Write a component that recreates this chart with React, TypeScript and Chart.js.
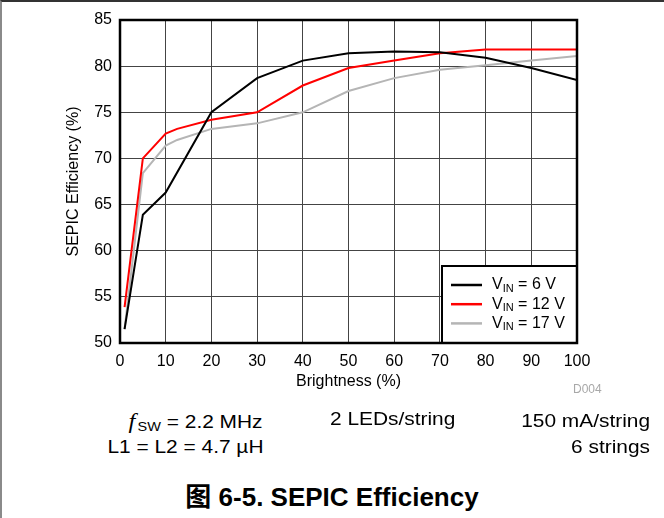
import React, { useEffect, useRef } from "react";
import { Chart, registerables } from "chart.js";

Chart.register(...registerables);

const SANS = "'Liberation Sans', Arial, Helvetica, sans-serif";
const SERIF = "'Liberation Serif', 'Times New Roman', serif";

// Axis ranges and ticks
const xRange = [0, 100];
const xStep = 10;
const yRange = [50, 85];
const yStep = 5;
const xTitle = "Brightness (%)";
const yTitle = "SEPIC Efficiency (%)";

// Series data
const brightness6V = [1, 5, 10, 20, 30, 40, 50, 60, 70, 80, 90, 100];
const efficiency6V = [51.5, 63.9, 66.3, 75.0, 78.7, 80.6, 81.4, 81.6, 81.5, 80.9, 79.8, 78.5];

const brightness12V = [1, 5, 10, 12.5, 20, 30, 40, 50, 60, 70, 80, 90, 100];
const efficiency12V = [53.9, 70.0, 72.7, 73.2, 74.2, 75.0, 77.9, 79.8, 80.6, 81.4, 81.8, 81.8, 81.8];

const brightness17V = [1, 5, 10, 12.5, 20, 30, 40, 50, 60, 70, 80, 90, 100];
const efficiency17V = [51.5, 68.4, 71.4, 72.0, 73.2, 73.8, 75.0, 77.3, 78.7, 79.6, 80.1, 80.6, 81.1];

const seriesValues = ["6 V", "12 V", "17 V"];
const seriesColors = ["#000000", "#ff0000", "#b5b5b5"];

const toPoints = (xs: number[], ys: number[]) => xs.map((x, i) => ({ x, y: ys[i] }));

const overlayPlugin = {
  id: "overlay",
  afterDraw(chart: any) {
    const { ctx, chartArea } = chart;
    const ds = chart.data.datasets;
    // legend box
    const w = 135;
    const h = 77;
    const x0 = chartArea.right - w;
    const y0 = chartArea.bottom - h;
    ctx.save();
    ctx.fillStyle = "#ffffff";
    ctx.fillRect(x0, y0, w, h);
    ctx.lineWidth = 2;
    ctx.strokeStyle = "#000000";
    ctx.strokeRect(x0, y0, w, h);
    ds.forEach((d: any, i: number) => {
      const y = chartArea.bottom - 58 + i * 19.2;
      ctx.beginPath();
      ctx.strokeStyle = d.borderColor;
      ctx.lineWidth = 2.5;
      ctx.moveTo(x0 + 9, y);
      ctx.lineTo(x0 + 40, y);
      ctx.stroke();
      ctx.fillStyle = "#000";
      ctx.textBaseline = "middle";
      ctx.textAlign = "left";
      let tx = x0 + 50;
      ctx.font = `16px ${SANS}`;
      ctx.fillText("V", tx, y);
      tx += ctx.measureText("V").width;
      ctx.font = `11px ${SANS}`;
      ctx.fillText("IN", tx, y + 4);
      tx += ctx.measureText("IN").width;
      ctx.font = `16px ${SANS}`;
      ctx.fillText(" = " + seriesValues[i], tx, y);
    });
    // plot frame
    ctx.lineWidth = 2.5;
    ctx.strokeStyle = "#000";
    ctx.strokeRect(chartArea.left, chartArea.top, chartArea.right - chartArea.left, chartArea.bottom - chartArea.top);
    ctx.restore();
  },
};

function ChartCanvas() {
  const ref = useRef<HTMLCanvasElement | null>(null);
  useEffect(() => {
    if (!ref.current) return;
    Chart.defaults.font.family = SANS;
    Chart.defaults.color = "#000";
    const chart = new Chart(ref.current, {
      type: "line",
      data: {
        datasets: [
          { label: "VIN = " + seriesValues[0], data: toPoints(brightness6V, efficiency6V), borderColor: seriesColors[0], backgroundColor: seriesColors[0] },
          { label: "VIN = " + seriesValues[1], data: toPoints(brightness12V, efficiency12V), borderColor: seriesColors[1], backgroundColor: seriesColors[1] },
          { label: "VIN = " + seriesValues[2], data: toPoints(brightness17V, efficiency17V), borderColor: seriesColors[2], backgroundColor: seriesColors[2] },
        ],
      },
      options: {
        responsive: false,
        animation: false,
        layout: { padding: { left: 0, right: 87, top: 20, bottom: 0 } },
        plugins: { legend: { display: false }, tooltip: { enabled: false } },
        elements: { point: { radius: 0 }, line: { tension: 0, borderWidth: 2 } },
        scales: {
          x: {
            type: "linear",
            min: xRange[0],
            max: xRange[1],
            ticks: { stepSize: xStep, padding: 9, font: { size: 16 }, color: "#000", maxRotation: 0, autoSkip: false },
            grid: { color: "#444", drawTicks: false, lineWidth: 1 },
            border: { display: false },
            title: { display: true, text: xTitle, font: { size: 16 }, color: "#000", padding: { top: 0, bottom: 9 } },
            afterFit: (s: any) => {
              s.height = 57;
            },
          },
          y: {
            type: "linear",
            min: yRange[0],
            max: yRange[1],
            ticks: { stepSize: yStep, padding: 8, font: { size: 16 }, color: "#000" },
            grid: { color: "#444", drawTicks: false, lineWidth: 1 },
            border: { display: false },
            title: { display: true, text: yTitle, font: { size: 16 }, color: "#000", padding: { top: 64, bottom: 0 } },
            afterFit: (s: any) => {
              s.width = 120;
            },
          },
        },
      },
      plugins: [overlayPlugin],
    } as any);
    return () => chart.destroy();
  }, []);
  return <canvas ref={ref} width={664} height={400} style={{ position: "absolute", left: 0, top: 0, width: 664, height: 400 }} />;
}

const stretch = 1.16;

export default function App() {
  const base: React.CSSProperties = { position: "absolute", whiteSpace: "nowrap", fontFamily: SANS, color: "#000" };
  return (
    <div style={{ position: "absolute", left: 0, top: 0, width: 664, height: 518, overflow: "hidden", background: "#fff", boxSizing: "border-box", borderTop: "2px solid #333", borderLeft: "2px solid #8a8a8a" }}>
      <div style={{ position: "absolute", left: -2, top: -2, width: 664, height: 400 }}>
        <ChartCanvas />
      </div>
      <div style={{ ...base, left: 571, top: 382.5 - 2, fontSize: 12, lineHeight: "12px", color: "#a8a8a8" }}>D004</div>
      <div style={{ ...base, right: 664 - 263, top: 412 - 2, fontSize: 18, lineHeight: "18px", transform: `scaleX(${stretch})`, transformOrigin: "right center" }}>
        <span style={{ fontFamily: SERIF, fontStyle: "italic", fontSize: 21, marginRight: 2 }}>f</span>
        <span style={{ fontSize: 12.5, position: "relative", top: 3 }}>SW</span>
        {" = 2.2 MHz"}
      </div>
      <div style={{ ...base, left: 328, top: 410 - 2, fontSize: 18, lineHeight: "18px", transform: `scaleX(${stretch})`, transformOrigin: "left center" }}>2 LEDs/string</div>
      <div style={{ ...base, right: 664 - 650, top: 412 - 2, fontSize: 18, lineHeight: "18px", transform: `scaleX(${stretch})`, transformOrigin: "right center" }}>150 mA/string</div>
      <div style={{ ...base, right: 664 - 263, top: 437.5 - 2, fontSize: 18, lineHeight: "18px", transform: `scaleX(${stretch})`, transformOrigin: "right center" }}>L1 = L2 = 4.7 µH</div>
      <div style={{ ...base, right: 664 - 650, top: 437.5 - 2, fontSize: 18, lineHeight: "18px", transform: `scaleX(${stretch})`, transformOrigin: "right center" }}>6 strings</div>
      <div style={{ ...base, left: -2, width: 664, textAlign: "center", top: 484 - 2, fontSize: 26, lineHeight: "26px", fontWeight: "bold", fontFamily: "'Liberation Sans', Arial, 'Noto Sans CJK SC', sans-serif" }}>图 6-5. SEPIC Efficiency</div>
    </div>
  );
}
